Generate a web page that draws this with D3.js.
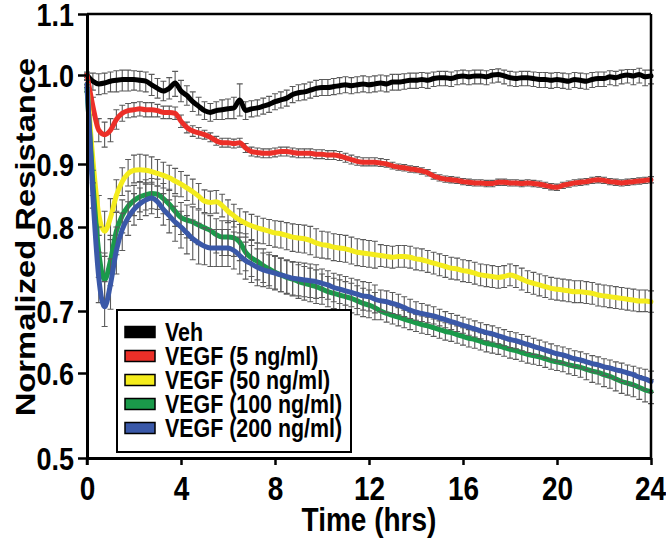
<!DOCTYPE html>
<html><head><meta charset="utf-8">
<script src="https://cdn.jsdelivr.net/npm/d3@7"></script>
<style>body{margin:0;background:#fff}svg{display:block}</style>
</head><body><svg id="c" width="666" height="539"></svg>
<script>
// ---------- DATA ----------
const timeStepHrs = 0.25;
const xTicks = [0, 4, 8, 12, 16, 20, 24];
const yTicks = [0.5, 0.6, 0.7, 0.8, 0.9, 1.0, 1.1];
const seriesNames = ["Veh", "VEGF (5 ng/ml)", "VEGF (50 ng/ml)", "VEGF (100 ng/ml)", "VEGF (200 ng/ml)"];
const seriesColors = ["#000000", "#ec2f28", "#f4ec1c", "#1a9a4a", "#3a58a8"];

const veh = [1.000,0.993,0.990,0.991,0.993,0.994,0.995,0.995,0.995,0.994,
0.993,0.989,0.985,0.982,0.985,0.991,0.982,0.977,0.970,0.965,
0.960,0.958,0.960,0.961,0.962,0.963,0.972,0.960,0.962,0.963,
0.965,0.967,0.970,0.972,0.974,0.978,0.980,0.981,0.983,0.985,
0.986,0.986,0.987,0.988,0.989,0.988,0.989,0.990,0.989,0.990,
0.991,0.990,0.992,0.992,0.993,0.994,0.994,0.995,0.994,0.996,
0.997,0.997,0.996,0.998,0.999,0.998,0.999,0.999,0.998,1.000,
1.001,0.999,0.997,0.996,0.997,0.997,0.996,0.995,0.995,0.994,
0.995,0.994,0.993,0.995,0.994,0.993,0.995,0.996,0.996,0.998,
0.997,0.999,1.000,0.999,1.001,0.998,0.999];
const vegf5 = [1.000,0.965,0.938,0.933,0.938,0.950,0.957,0.960,0.961,0.962,
0.961,0.961,0.960,0.958,0.958,0.957,0.948,0.941,0.937,0.935,
0.933,0.930,0.926,0.924,0.924,0.923,0.924,0.918,0.914,0.913,
0.912,0.912,0.913,0.914,0.914,0.913,0.912,0.912,0.912,0.911,
0.911,0.910,0.910,0.909,0.907,0.905,0.903,0.902,0.902,0.902,
0.901,0.900,0.897,0.895,0.894,0.892,0.891,0.889,0.886,0.881,
0.878,0.876,0.875,0.874,0.872,0.871,0.870,0.870,0.869,0.869,
0.871,0.871,0.870,0.870,0.869,0.870,0.869,0.868,0.866,0.864,
0.863,0.866,0.868,0.870,0.871,0.872,0.874,0.875,0.874,0.872,
0.871,0.870,0.871,0.872,0.873,0.874,0.875];
const vegf50 = [0.990,0.905,0.820,0.795,0.815,0.850,0.872,0.885,0.890,0.891,
0.890,0.888,0.885,0.882,0.878,0.873,0.868,0.862,0.856,0.849,
0.841,0.839,0.840,0.834,0.825,0.818,0.811,0.806,0.802,0.799,
0.797,0.795,0.793,0.792,0.790,0.788,0.787,0.786,0.784,0.781,
0.779,0.778,0.776,0.775,0.774,0.772,0.770,0.769,0.768,0.767,
0.766,0.765,0.764,0.765,0.765,0.764,0.762,0.761,0.759,0.757,
0.755,0.753,0.751,0.750,0.748,0.747,0.745,0.743,0.742,0.741,
0.740,0.741,0.743,0.741,0.738,0.735,0.733,0.731,0.729,0.727,
0.726,0.725,0.724,0.723,0.723,0.722,0.721,0.719,0.718,0.717,
0.716,0.715,0.714,0.713,0.712,0.712,0.711];
const vegf100 = [0.985,0.870,0.770,0.737,0.760,0.795,0.818,0.833,0.842,0.848,
0.851,0.853,0.852,0.845,0.836,0.825,0.815,0.811,0.808,0.803,
0.799,0.796,0.791,0.788,0.788,0.787,0.782,0.770,0.763,0.759,
0.754,0.750,0.746,0.743,0.740,0.738,0.735,0.733,0.731,0.729,
0.726,0.723,0.721,0.719,0.717,0.715,0.712,0.709,0.707,0.704,
0.700,0.696,0.693,0.690,0.687,0.684,0.681,0.678,0.676,0.673,
0.670,0.667,0.665,0.662,0.659,0.656,0.654,0.651,0.648,0.646,
0.644,0.641,0.638,0.636,0.633,0.630,0.628,0.626,0.623,0.620,
0.618,0.616,0.613,0.611,0.609,0.606,0.603,0.601,0.598,0.596,
0.593,0.590,0.588,0.586,0.583,0.580,0.578];
const vegf200 = [0.990,0.850,0.740,0.705,0.732,0.772,0.797,0.815,0.828,0.837,
0.843,0.846,0.840,0.828,0.818,0.808,0.800,0.793,0.786,0.781,
0.777,0.775,0.775,0.775,0.775,0.772,0.766,0.760,0.756,0.752,
0.749,0.747,0.745,0.743,0.741,0.739,0.738,0.737,0.736,0.735,
0.733,0.731,0.728,0.726,0.724,0.722,0.720,0.718,0.717,0.714,
0.712,0.711,0.709,0.707,0.704,0.701,0.698,0.696,0.694,0.692,
0.689,0.686,0.683,0.680,0.677,0.674,0.671,0.668,0.665,0.663,
0.660,0.657,0.654,0.652,0.649,0.646,0.643,0.640,0.637,0.634,
0.631,0.629,0.626,0.623,0.621,0.618,0.615,0.613,0.610,0.608,
0.605,0.603,0.600,0.598,0.595,0.593,0.590];

const vehErr = [0.005,0.010,0.012,0.012,0.012,0.013,0.013,0.013,0.012,0.012,
0.012,0.012,0.011,0.011,0.012,0.015,0.012,0.011,0.011,0.010,
0.010,0.010,0.010,0.011,0.011,0.012,0.018,0.010,0.009,0.009,
0.009,0.009,0.009,0.009,0.009,0.009,0.009,0.009,0.009,0.009,
0.009,0.009,0.009,0.009,0.009,0.009,0.009,0.009,0.009,0.009,
0.009,0.009,0.009,0.009,0.009,0.009,0.009,0.009,0.009,0.009,
0.009,0.009,0.009,0.009,0.009,0.009,0.009,0.009,0.009,0.009,
0.009,0.009,0.009,0.009,0.009,0.009,0.009,0.009,0.009,0.009,
0.009,0.009,0.009,0.009,0.009,0.009,0.009,0.009,0.009,0.009,
0.009,0.009,0.009,0.010,0.010,0.010,0.009];
const vegf5Err = [0.003,0.010,0.013,0.014,0.013,0.011,0.009,0.008,0.008,0.008,
0.008,0.008,0.007,0.007,0.007,0.007,0.007,0.006,0.006,0.006,
0.005,0.005,0.005,0.005,0.005,0.005,0.005,0.005,0.005,0.005,
0.005,0.005,0.005,0.005,0.005,0.005,0.005,0.005,0.005,0.005,
0.005,0.005,0.005,0.005,0.005,0.005,0.005,0.005,0.005,0.005,
0.005,0.005,0.005,0.005,0.005,0.005,0.005,0.005,0.005,0.005,
0.005,0.005,0.005,0.005,0.005,0.005,0.005,0.005,0.005,0.005,
0.005,0.005,0.005,0.005,0.005,0.005,0.005,0.005,0.005,0.005,
0.005,0.005,0.005,0.005,0.005,0.005,0.005,0.005,0.005,0.005,
0.005,0.005,0.005,0.005,0.005,0.005,0.005];
const vegf50Err = [0.004,0.020,0.030,0.030,0.030,0.025,0.022,0.020,0.020,0.020,
0.020,0.020,0.020,0.020,0.020,0.020,0.020,0.020,0.020,0.020,
0.018,0.018,0.018,0.018,0.018,0.018,0.018,0.018,0.018,0.018,
0.017,0.017,0.017,0.017,0.017,0.017,0.017,0.017,0.017,0.017,
0.016,0.016,0.016,0.016,0.016,0.016,0.016,0.016,0.016,0.016,
0.013,0.013,0.013,0.013,0.013,0.013,0.013,0.013,0.013,0.013,
0.013,0.013,0.013,0.013,0.013,0.013,0.013,0.013,0.013,0.013,
0.013,0.013,0.013,0.013,0.013,0.013,0.013,0.013,0.013,0.013,
0.013,0.013,0.013,0.013,0.013,0.013,0.013,0.013,0.013,0.013,
0.013,0.013,0.013,0.013,0.013,0.013,0.013];
const vegf100Err = [0.004,0.020,0.030,0.032,0.030,0.028,0.025,0.024,0.024,0.024,
0.024,0.024,0.024,0.024,0.024,0.024,0.024,0.024,0.024,0.024,
0.022,0.022,0.022,0.022,0.022,0.022,0.022,0.022,0.022,0.022,
0.020,0.020,0.020,0.020,0.020,0.020,0.020,0.020,0.020,0.020,
0.018,0.018,0.018,0.018,0.018,0.018,0.018,0.018,0.018,0.018,
0.014,0.014,0.014,0.014,0.014,0.014,0.014,0.014,0.014,0.014,
0.014,0.014,0.014,0.014,0.014,0.014,0.014,0.014,0.014,0.014,
0.014,0.014,0.014,0.014,0.014,0.014,0.014,0.014,0.014,0.014,
0.014,0.014,0.014,0.014,0.014,0.014,0.014,0.014,0.014,0.014,
0.014,0.014,0.014,0.014,0.014,0.014,0.014];
const vegf200Err = [0.004,0.020,0.030,0.030,0.030,0.028,0.025,0.025,0.025,0.025,
0.025,0.025,0.025,0.025,0.025,0.025,0.025,0.025,0.025,0.025,
0.022,0.022,0.022,0.022,0.022,0.022,0.022,0.022,0.022,0.022,
0.020,0.020,0.020,0.020,0.020,0.020,0.020,0.020,0.020,0.020,
0.017,0.017,0.017,0.017,0.017,0.017,0.017,0.017,0.017,0.017,
0.013,0.013,0.013,0.013,0.013,0.013,0.013,0.013,0.013,0.013,
0.013,0.013,0.013,0.013,0.013,0.013,0.013,0.013,0.013,0.013,
0.013,0.013,0.013,0.013,0.013,0.013,0.013,0.013,0.013,0.013,
0.013,0.013,0.013,0.013,0.013,0.013,0.013,0.013,0.013,0.013,
0.013,0.013,0.013,0.013,0.013,0.013,0.013];

const seriesValues = [veh, vegf5, vegf50, vegf100, vegf200];
const seriesErrors = [vehErr, vegf5Err, vegf50Err, vegf100Err, vegf200Err];

// ---------- LAYOUT ----------
const FONT = "'Liberation Sans', Arial, Helvetica, sans-serif";
const S = 1.17; // vertical stretch of the lettering
const svg = d3.select("#c");
svg.append("rect").attr("width", 666).attr("height", 539).attr("fill", "#fff");

const x = d3.scaleLinear().domain([0, 24]).range([87, 651]);
const y = d3.scaleLinear().domain(yTicks).range([458, 373, 311, 227, 164, 75, 14]);

// series
const lineGen = d3.line().x(d => x(d.t)).y(d => y(d.v)).curve(d3.curveMonotoneX);
seriesValues.forEach((vals, si) => {
  const pts = vals.map((v, i) => ({t: i * timeStepHrs, v, e: seriesErrors[si][i]}));
  const g = svg.append("g");
  const eb = g.append("g").attr("stroke", "#5a5a5a").attr("stroke-width", 1.1).attr("fill", "none");
  pts.forEach(p => {
    const xx = x(p.t), y1 = y(p.v + p.e), y2 = y(p.v - p.e);
    eb.append("path").attr("d", `M${xx},${y1}V${y2}M${xx-3},${y1}H${xx+3}M${xx-3},${y2}H${xx+3}`);
  });
  g.append("path").datum(pts).attr("d", lineGen)
    .attr("fill", "none").attr("stroke", seriesColors[si]).attr("stroke-width", 5)
    .attr("stroke-linejoin", "round").attr("stroke-linecap", "round");
});

// frame
svg.append("line").attr("x1", x(0)).attr("x2", x(24)).attr("y1", y(1.1)).attr("y2", y(1.1))
  .attr("stroke", "#000").attr("stroke-width", 2.5);
svg.append("line").attr("x1", x(24)).attr("x2", x(24)).attr("y1", y(1.1)).attr("y2", y(0.5))
  .attr("stroke", "#000").attr("stroke-width", 2.5);

// axes
const yAxis = svg.append("g").attr("transform", `translate(${x(0)},0)`)
  .call(d3.axisLeft(y).tickValues(yTicks).tickFormat(d3.format(".1f")).tickSize(9).tickSizeOuter(0));
const xAxis = svg.append("g").attr("transform", `translate(0,${y(0.5)})`)
  .call(d3.axisBottom(x).tickValues(xTicks).tickFormat(d3.format("d")).tickSize(7).tickSizeOuter(0));
[yAxis, xAxis].forEach(a => {
  a.select(".domain").attr("stroke", "#000").attr("stroke-width", 3);
  a.selectAll(".tick line").attr("stroke", "#000").attr("stroke-width", 2.5);
  a.selectAll("text").attr("fill", "#000").attr("font-family", FONT).attr("font-weight", "bold");
});
yAxis.selectAll("text").attr("font-size", 27).attr("x", -13).attr("dy", "0.36em")
  .attr("transform", `scale(1,${S})`);
xAxis.selectAll("text").attr("font-size", 28).attr("y", 42 / S).attr("dy", 0)
  .attr("transform", `scale(1,${S})`);
xAxis.selectAll(".tick").filter(d => d === 24).select("text").attr("x", -1);
// origin cross tick below the axis at x=0
svg.append("line").attr("x1", x(0)).attr("x2", x(0)).attr("y1", y(0.5)).attr("y2", y(0.5) + 7)
  .attr("stroke", "#000").attr("stroke-width", 2.5);

// axis titles
svg.append("g").attr("transform", `translate(${(x(0) + x(24)) / 2},531) scale(1,${S})`)
  .append("text").attr("text-anchor", "middle").attr("font-family", FONT).attr("font-weight", "bold")
  .attr("font-size", 28).text("Time (hrs)");
svg.append("g").attr("transform", `translate(35,237) scale(1,${S}) rotate(-90)`)
  .append("text").attr("text-anchor", "middle").attr("font-family", FONT).attr("font-weight", "bold")
  .attr("font-size", 28).text("Normalized Resistance");

// legend
const lg = svg.append("g");
lg.append("rect").attr("x", 117).attr("y", 310).attr("width", 234).attr("height", 142)
  .attr("fill", "#fff").attr("stroke", "#000").attr("stroke-width", 2);
seriesNames.forEach((name, i) => {
  const cy = 332 + i * 24;
  lg.append("rect").attr("x", 125).attr("y", cy - 5.5).attr("width", 30).attr("height", 11)
    .attr("fill", seriesColors[i]).attr("stroke", "#000").attr("stroke-width", 1.5);
  lg.append("g").attr("transform", `translate(165,${cy + 9}) scale(1,${S})`)
    .append("text").attr("font-family", FONT).attr("font-weight", "bold").attr("font-size", 21.4)
    .text(name);
});
</script></body></html>
